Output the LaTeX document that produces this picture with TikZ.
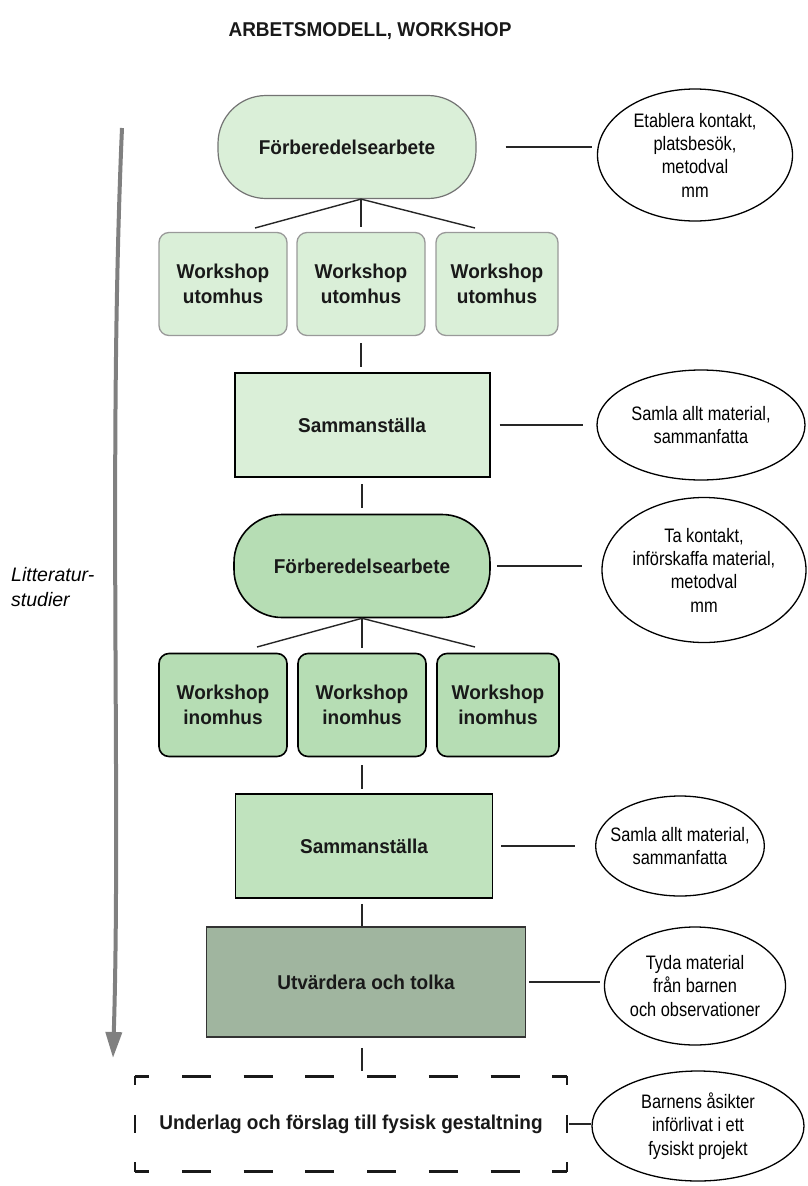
\documentclass[tikz,border=0pt]{standalone}
\usepackage{fontspec}
\setmainfont{Liberation Sans}
\newfontfamily\labelfont[FakeStretch=0.95]{Liberation Sans}
\newfontfamily\narrowfont[FakeStretch=0.84]{Liberation Sans}
\usetikzlibrary{shapes.geometric,arrows.meta}

\definecolor{palegreen}{HTML}{DAEFD8}
\definecolor{midgreen}{HTML}{B6DDB4}
\definecolor{softgreen}{HTML}{C0E3BE}
\definecolor{greygreen}{HTML}{A0B59F}
\definecolor{arrowgrey}{HTML}{808080}

\begin{document}
\begin{tikzpicture}[x=1pt, y=-1pt,
	label/.style={font=\labelfont\fontsize{20}{25}\selectfont\bfseries, align=center, inner sep=0pt, text=black!90},
	stage/.style={label, rectangle, rounded corners=48pt, minimum width=258pt, minimum height=103pt},
	workbox/.style={label, rectangle, rounded corners=10pt, minimum width=128pt, minimum height=103pt},
	sumbox/.style={label, rectangle, minimum height=104pt},
	note/.style={ellipse, draw=black, line width=1.3pt, fill=white, align=center, inner xsep=-10pt, inner ysep=0pt, font=\narrowfont\fontsize{19.5}{23.3}\selectfont},
	link/.style={draw=black!85, line width=1.4pt},
	litline/.style={draw=arrowgrey, line width=4pt, -{Triangle[length=26pt 0 0, width=16pt 0 0]}}
	]

	\useasboundingbox (0,0) rectangle (808,1186);

	\node[label] (title) at (370,31) {ARBETSMODELL, WORKSHOP};

	\node[stage, fill=palegreen, draw=black!55, line width=1.2pt] (fb1) at (347,147) {Förberedelsearbete};
	\node[workbox, fill=palegreen, draw=black!40, line width=1.3pt] (ws1) at (223,284) {Workshop\\utomhus};
	\node[workbox, fill=palegreen, draw=black!40, line width=1.3pt] (ws2) at (361,284) {Workshop\\utomhus};
	\node[workbox, fill=palegreen, draw=black!40, line width=1.3pt, minimum width=122pt] (ws3) at (497,284) {Workshop\\utomhus};
	\node[sumbox, fill=palegreen, draw=black, line width=2pt, minimum width=255pt] (samm1) at (362,425) {Sammanställa};

	\node[stage, fill=midgreen, draw=black, line width=1.6pt, minimum width=256pt] (fb2) at (362,566) {Förberedelsearbete};
	\node[workbox, fill=midgreen, draw=black, line width=1.6pt] (wi1) at (223,705) {Workshop\\inomhus};
	\node[workbox, fill=midgreen, draw=black, line width=1.6pt] (wi2) at (362,705) {Workshop\\inomhus};
	\node[workbox, fill=midgreen, draw=black, line width=1.6pt, minimum width=122pt] (wi3) at (498,705) {Workshop\\inomhus};
	\node[sumbox, fill=softgreen, draw=black, line width=1.6pt, minimum width=257pt] (samm2) at (364,846) {Sammanställa};
	\node[sumbox, fill=greygreen, draw=black!80, line width=1.6pt, minimum width=319pt, minimum height=110pt] (utv) at (366,982) {Utvärdera och tolka};
	\node[label, minimum width=432pt, minimum height=95pt] (plan) at (351,1124) {Underlag och förslag till fysisk gestaltning};

	\node[note, minimum width=195pt, minimum height=132pt] (e1) at (695,155) {Etablera kontakt,\\platsbesök,\\metodval\\mm};
	\node[note, minimum width=208pt, minimum height=110pt] (e2) at (701,425) {Samla allt material,\\sammanfatta};
	\node[note, minimum width=204pt, minimum height=145pt] (e3) at (704,570) {Ta kontakt,\\införskaffa material,\\metodval\\mm};
	\node[note, minimum width=165pt, minimum height=100pt] (e4) at (680,846) {Samla allt material,\\sammanfatta};
	\node[note, minimum width=181pt, minimum height=118pt] (e5) at (695,986) {Tyda material\\från barnen\\och observationer};
	\node[note, minimum width=212pt, minimum height=110pt] (e6) at (698,1126) {Barnens åsikter\\införlivat i ett\\fysiskt projekt};

	\node[font=\fontsize{19.5}{25}\selectfont\itshape, align=left, anchor=west, inner sep=0pt] (lit) at (11,587) {Litteratur-\\studier};
	\coordinate (ltop) at (122,128);
	\coordinate (lbot) at (113,1058);
	\draw[litline] (ltop) .. controls (108,450) and (121,800) .. (lbot);

	\coordinate (t1) at (255,228);
	\coordinate (t3) at (475,228);
	\draw[link] (fb1.south -| ws2.north) -- (t1);
	\draw[link, shorten >=5pt] (fb1.south -| ws2.north) -- (ws2.north);
	\draw[link] (fb1.south -| ws2.north) -- (t3);

	\coordinate (u1) at (257,647);
	\coordinate (u3) at (475,647);
	\draw[link] (fb2.south) -- (u1);
	\draw[link, shorten >=5pt] (fb2.south) -- (wi2.north);
	\draw[link] (fb2.south) -- (u3);

	\draw[link, shorten <=7pt, shorten >=5pt] (ws2.south) -- (samm1.north -| ws2.south);
	\draw[link, shorten <=6pt, shorten >=6pt] (samm1.south) -- (fb2.north);
	\draw[link, shorten <=8pt, shorten >=4pt] (wi2.south) -- (samm2.north -| wi2.south);
	\draw[link, shorten <=5pt] (samm2.south -| wi2.south) -- (utv.north -| wi2.south);
	\draw[link, shorten <=10pt, shorten >=5pt] (utv.south -| wi2.south) -- (plan.north -| wi2.south);

	\draw[link, shorten <=29pt, shorten >=5pt] (fb1.east) -- (fb1.east -| e1.west);
	\draw[link, shorten <=9pt, shorten >=13pt] (samm1.east) -- (samm1.east -| e2.west);
	\draw[link, shorten <=6pt, shorten >=19pt] (fb2.east) -- (fb2.east -| e3.west);
	\draw[link, shorten <=8pt, shorten >=20pt] (samm2.east) -- (samm2.east -| e4.west);
	\draw[link, shorten <=3pt, shorten >=4pt] (utv.east) -- (utv.east -| e5.west);
	\draw[link, shorten <=2pt] (plan.east) -- (plan.east -| e6.west);

	\draw[black!90, line width=2.5pt, dash pattern=on 29pt off 32.7pt, dash phase=14.5pt] (plan.north west) -- (plan.north east);
	\draw[black!90, line width=2.5pt, dash pattern=on 29pt off 32.7pt, dash phase=14.5pt] (plan.south west) -- (plan.south east);
	\draw[black!90, line width=2.5pt, dash pattern=on 18pt off 29.5pt, dash phase=9pt] (plan.north west) -- (plan.south west);
	\draw[black!90, line width=2.5pt, dash pattern=on 18pt off 29.5pt, dash phase=9pt] (plan.north east) -- (plan.south east);
\end{tikzpicture}
\end{document}
